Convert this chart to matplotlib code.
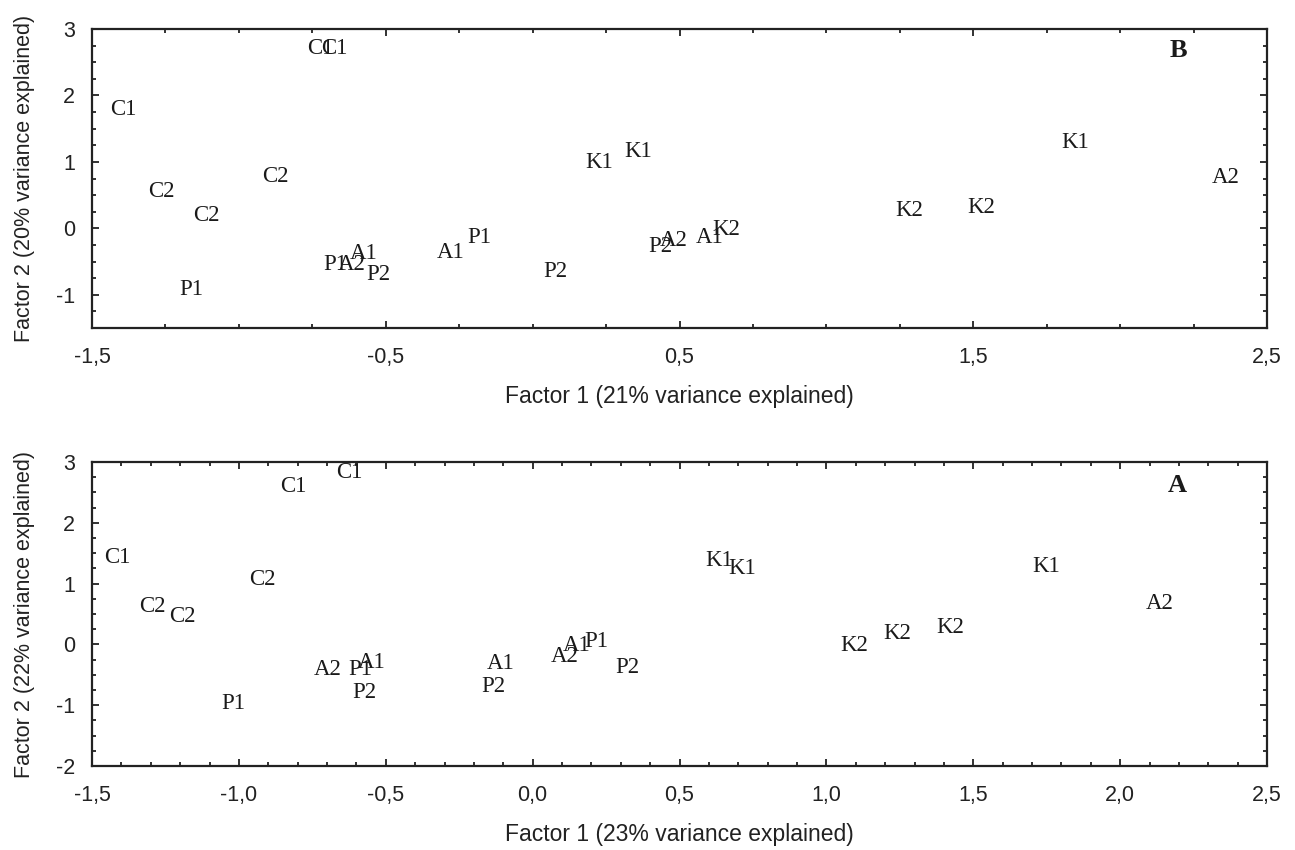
import matplotlib
matplotlib.use("Agg")
import matplotlib.pyplot as plt
from matplotlib.ticker import MultipleLocator, FuncFormatter, FixedLocator

# ---------------- data ----------------
# Panel B (top)
labels_B = ["C1", "C1", "C1", "C2", "C2", "C2",
            "P1", "P1", "P1", "P2", "P2", "P2",
            "A1", "A1", "A1", "A2", "A2", "A2",
            "K1", "K1", "K1", "K2", "K2", "K2"]
x_B = [-0.767, -0.720, -1.437, -1.308, -1.157, -0.921,
       -1.202, -0.713, -0.222, -0.566, 0.038, 0.393,
       -0.622, -0.327, 0.557, -0.664, 0.432, 2.311,
       0.178, 0.312, 1.80, 0.612, 1.234, 1.480]
y_B = [2.70, 2.70, 1.79, 0.56, 0.20, 0.78,
       -0.92, -0.54, -0.14, -0.70, -0.65, -0.28,
       -0.38, -0.36, -0.14, -0.54, -0.19, 0.77,
       0.995, 1.16, 1.29, -0.02, 0.27, 0.32]

# Panel A (bottom)
labels_A = ["C1", "C1", "C1", "C2", "C2", "C2",
            "P1", "P1", "P1", "P2", "P2", "P2",
            "A1", "A1", "A1", "A2", "A2", "A2",
            "K1", "K1", "K1", "K2", "K2", "K2"]
x_A = [-0.668, -0.858, -1.458, -0.964, -1.341, -1.239,
       -1.06, -0.626, 0.176, -0.614, -0.174, 0.281,
       -0.595, -0.157, 0.101, -0.745, 0.061, 2.088,
       0.588, 0.666, 1.70, 1.046, 1.195, 1.373]
y_A = [2.82, 2.59, 1.43, 1.06, 0.63, 0.46,
       -0.97, -0.42, 0.05, -0.79, -0.70, -0.38,
       -0.29, -0.32, -0.01, -0.42, -0.20, 0.68,
       1.38, 1.25, 1.28, -0.01, 0.18, 0.28]

xlabel_B = "Factor 1 (21% variance explained)"
ylabel_B = "Factor 2 (20% variance explained)"
xlabel_A = "Factor 1 (23% variance explained)"
ylabel_A = "Factor 2 (22% variance explained)"

# ---------------- figure ----------------
W, H, DPI = 1295, 850, 100
fig = plt.figure(figsize=(W / DPI, H / DPI), dpi=DPI)

SANS = ["Liberation Sans", "DejaVu Sans"]
SERIF = ["Liberation Serif", "DejaVu Serif"]
INK = "#1a1a1a"


def comma(v, pos=None):
    return f"{v:.1f}".replace(".", ",")


def intfmt(v, pos=None):
    return f"{int(round(v))}"


def style_axes(ax):
    for sp in ax.spines.values():
        sp.set_linewidth(1.6)
        sp.set_color("#222222")
    ax.tick_params(which="both", direction="in", top=True, right=True,
                   color="#222222", labelsize=15.5, labelcolor="#222222")
    ax.tick_params(which="major", length=5, width=1.3)
    ax.tick_params(which="minor", length=3, width=1.3)
    ax.tick_params(axis="x", which="both", pad=14)
    ax.tick_params(axis="y", which="both", pad=12)
    for lab in ax.get_xticklabels() + ax.get_yticklabels():
        lab.set_fontfamily(SANS)


def draw_labels(ax, labels, xs, ys):
    for lab, x, y in zip(labels, xs, ys):
        ax.text(x, y, lab, ha="left", va="center", fontsize=16.5,
                family=SERIF, color=INK)


left = 92 / W
width = (1267 - 92) / W

# top panel (B)
axB = fig.add_axes([left, 1 - 328 / H, width, (328 - 29) / H])
axB.set_xlim(-1.5, 2.5)
axB.set_ylim(-1.5, 3)
axB.xaxis.set_major_locator(FixedLocator([-1.5, -0.5, 0.5, 1.5, 2.5]))
axB.xaxis.set_minor_locator(MultipleLocator(0.25))
axB.yaxis.set_major_locator(MultipleLocator(1))
axB.yaxis.set_minor_locator(MultipleLocator(0.25))
axB.xaxis.set_major_formatter(FuncFormatter(comma))
axB.yaxis.set_major_formatter(FuncFormatter(intfmt))
style_axes(axB)
draw_labels(axB, labels_B, x_B, y_B)
axB.text(2.17, 2.68, "B", ha="left", va="center", fontsize=19,
         family=SERIF, fontweight="bold", color=INK)
axB.set_xlabel(xlabel_B, fontsize=16.5, family=SANS, color="#222222", labelpad=12)
axB.set_ylabel(ylabel_B, fontsize=15.5, family=SANS, color="#222222", labelpad=15)

# bottom panel (A)
axA = fig.add_axes([left, 1 - 766 / H, width, (766 - 462) / H])
axA.set_xlim(-1.5, 2.5)
axA.set_ylim(-2, 3)
axA.xaxis.set_major_locator(MultipleLocator(0.5))
axA.xaxis.set_minor_locator(MultipleLocator(0.1))
axA.yaxis.set_major_locator(MultipleLocator(1))
axA.yaxis.set_minor_locator(MultipleLocator(0.25))
axA.xaxis.set_major_formatter(FuncFormatter(comma))
axA.yaxis.set_major_formatter(FuncFormatter(intfmt))
style_axes(axA)
draw_labels(axA, labels_A, x_A, y_A)
axA.text(2.163, 2.62, "A", ha="left", va="center", fontsize=19,
         family=SERIF, fontweight="bold", color=INK)
axA.set_xlabel(xlabel_A, fontsize=16.5, family=SANS, color="#222222", labelpad=12)
axA.set_ylabel(ylabel_A, fontsize=15.5, family=SANS, color="#222222", labelpad=15)

fig.savefig("out.png", dpi=DPI)
